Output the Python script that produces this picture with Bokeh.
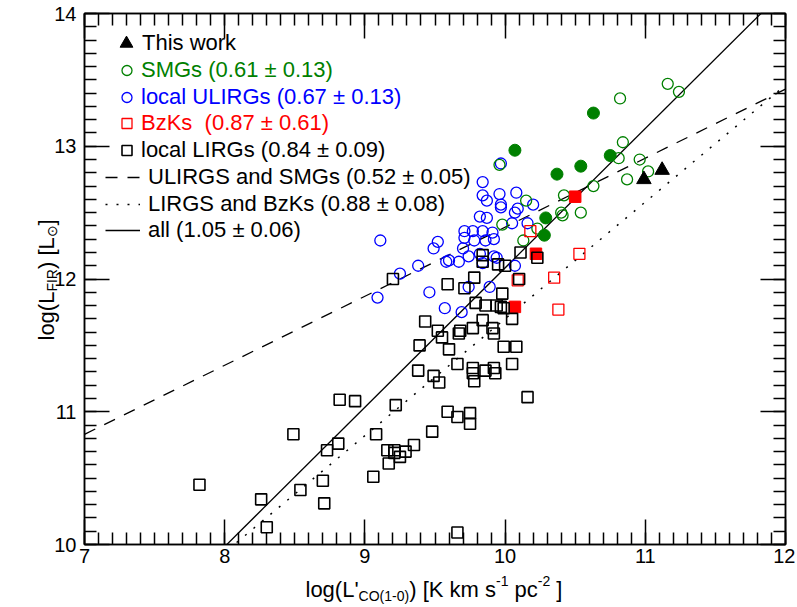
import numpy as np
from bokeh.plotting import figure
from bokeh.models import (Legend, LegendItem, LinearAxis, SingleIntervalTicker,
                          Range1d, CustomJSTickFormatter)
from bokeh.core.properties import value
from bokeh.embed import file_html
from bokeh.resources import INLINE

FONT = "Liberation Sans"
GREEN = "#008000"
BLUE = "#0000ff"
RED = "#ff0000"

# ---------------- data (log L'CO, log LFIR) ----------------
this_work_x = [10.99, 11.12]
this_work_y = [12.75, 12.82]

smg_open_x = [11.16, 11.24, 10.82, 10.84, 10.81, 10.96, 11.02, 10.87, 10.63, 10.42,
              10.54, 10.40, 10.41, 10.15, 9.98, 10.23, 10.13, 9.96]
smg_open_y = [13.47, 13.41, 13.36, 13.03, 12.91, 12.90, 12.81, 12.75, 12.70, 12.63,
              12.50, 12.50, 12.48, 12.59, 12.41, 12.38, 12.29, 12.86]

smg_filled_x = [10.63, 10.07, 10.54, 10.37, 10.75, 10.29, 10.28]
smg_filled_y = [13.25, 12.97, 12.85, 12.79, 12.93, 12.46, 12.33]

ulirg_x = [9.09, 9.11, 9.25, 9.38, 9.46, 9.49, 9.52, 9.57, 9.58, 9.60, 9.67, 9.69,
           9.70, 9.71, 9.71, 9.74, 9.74, 9.77, 9.78, 9.82, 9.82, 9.84, 9.84, 9.84,
           9.84, 9.86, 9.87, 9.87, 9.89, 9.91, 9.92, 9.92, 9.94, 9.96, 9.97, 9.97,
           9.97, 10.05, 10.07, 10.07, 10.08, 10.09, 10.16, 10.20]
ulirg_y = [11.86, 12.29, 12.04, 12.10, 11.90, 12.23, 12.28, 11.78, 12.13, 12.14, 12.13, 11.75,
           12.23, 12.31, 12.36, 12.17, 11.94, 12.36, 12.29, 12.47, 12.19, 12.73, 12.36, 12.12,
           12.63, 12.29, 12.59, 12.46, 11.94, 12.35, 12.30, 12.17, 12.16, 12.64, 12.56, 12.54,
           12.87, 12.42, 12.10, 12.50, 12.65, 12.53, 12.42, 12.56]

bzk_filled_x = [10.50, 10.22, 10.07]
bzk_filled_y = [12.62, 12.19, 11.79]
bzk_open_x = [10.18, 10.53, 10.35, 10.09, 10.38]
bzk_open_y = [12.36, 12.19, 12.01, 11.99, 11.77]

lirg_x = [7.82, 8.26, 8.30, 8.49, 8.54, 8.70, 8.71, 8.73, 8.81, 8.82, 8.93, 9.06,
          9.08, 9.16, 9.21, 9.21, 9.25, 9.29, 9.17, 9.22, 9.35, 9.48, 9.59, 9.66,
          9.75, 9.75, 9.66, 9.38, 9.49, 9.53, 9.77, 9.77, 9.78, 9.86, 9.92, 9.93,
          10.05, 9.99, 10.08, 9.66, 9.39, 9.60, 9.43, 9.52, 9.55, 9.68, 9.67, 9.77,
          9.91, 9.92, 9.84, 10.05, 9.79, 9.86, 9.94, 9.97, 9.99, 9.98, 9.20, 9.59,
          9.71, 9.78, 10.10, 9.84, 9.84, 9.95, 10.00, 10.11, 10.23, 10.16]
lirg_y = [10.45, 10.34, 10.13, 10.83, 10.41, 10.48, 10.31, 10.71, 10.76, 11.09, 11.08, 10.51,
          10.83, 10.71, 10.71, 10.69, 10.66, 10.70, 10.61, 11.05, 10.75, 10.85, 11.00, 10.96,
          10.99, 10.91, 10.09, 11.31, 11.27, 11.22, 11.33, 11.29, 11.23, 11.31, 11.33, 11.29,
          11.36, 11.49, 11.49, 11.36, 11.50, 11.47, 11.68, 11.61, 11.56, 11.61, 11.59, 11.63,
          11.63, 11.59, 11.69, 11.70, 11.82, 11.80, 11.80, 11.79, 11.78, 11.89, 12.00, 11.96,
          11.93, 12.01, 12.00, 12.18, 12.13, 12.11, 12.10, 12.20, 12.16, 11.11]

# fitted relations: log LFIR = slope * log L'CO + intercept
fit_ulirg_smg = (0.52, 7.19)
fit_lirg_bzk = (0.88, 2.90)
fit_all = (1.05, 1.584)

legend_labels = ["This work", "SMGs (0.61 \u00b1 0.13)", "local ULIRGs (0.67 \u00b1 0.13)",
                 "BzKs\u00a0 (0.87 \u00b1 0.61)", "local LIRGs (0.84 \u00b1 0.09)",
                 "ULIRGS and SMGs (0.52 \u00b1 0.05)", "LIRGS and BzKs (0.88 \u00b1 0.08)",
                 "all (1.05 \u00b1 0.06)"]

# ---------------- layout constants (page pixels) ----------------
W, H = 795, 605
FL, FR, FT, FB = 84, 785, 13, 544   # frame edges on the page
X0, X1, Y0, Y1 = 7, 12, 10, 14

p = figure(width=W, height=H, output_backend="svg", toolbar_location=None,
           x_range=Range1d(X0, X1), y_range=Range1d(Y0, Y1),
           min_border_left=FL, min_border_right=W - FR,
           min_border_top=FT, min_border_bottom=H - FB)
p.xgrid.visible = False
p.ygrid.visible = False
p.outline_line_color = "black"
p.outline_line_width = 1.5
p.background_fill_color = "white"
p.border_fill_color = "white"


def style_axis(ax, labels=True, standoff=6):
    ax.ticker = SingleIntervalTicker(interval=1, num_minor_ticks=10)
    ax.axis_line_color = "black"
    ax.axis_line_width = 1.5
    ax.major_tick_in = 25
    ax.major_tick_out = 0
    ax.minor_tick_in = 12
    ax.minor_tick_out = 0
    ax.major_tick_line_color = "black"
    ax.major_tick_line_width = 1.5
    ax.minor_tick_line_color = "black"
    ax.minor_tick_line_width = 1.5
    ax.major_label_text_font = FONT
    ax.major_label_text_font_size = "20px"
    ax.major_label_text_color = "black"
    ax.major_label_standoff = standoff
    if not labels:
        ax.formatter = CustomJSTickFormatter(code="return ''")
        ax.major_label_standoff = 0
        ax.major_label_text_font_size = "0px"


style_axis(p.xaxis[0], True, 4)
style_axis(p.yaxis[0], True, 8)
top_ax = LinearAxis()
right_ax = LinearAxis()
style_axis(top_ax, False)
style_axis(right_ax, False)
p.add_layout(top_ax, "above")
p.add_layout(right_ax, "right")

# ---------------- fit lines ----------------
xs = np.array([7.0, 12.0])
l_dash = p.line(xs, fit_ulirg_smg[0] * xs + fit_ulirg_smg[1], line_color="black",
                line_width=1.3, line_dash="12 10")
l_dot = p.line(xs, fit_lirg_bzk[0] * xs + fit_lirg_bzk[1], line_color="black",
               line_width=1.5, line_dash="2 9")
l_all = p.line(xs, fit_all[0] * xs + fit_all[1], line_color="black", line_width=1.3)

# ---------------- points ----------------
r_ulirg = p.scatter(ulirg_x, ulirg_y, marker="circle", size=11, fill_color=None,
                    line_color=BLUE, line_width=1.3)
r_smg = p.scatter(smg_open_x, smg_open_y, marker="circle", size=11, fill_color=None,
                  line_color=GREEN, line_width=1.3)
r_smgf = p.scatter(smg_filled_x, smg_filled_y, marker="circle", size=12, fill_color=GREEN,
                   line_color=GREEN, line_width=1)
r_bzkf = p.scatter(bzk_filled_x, bzk_filled_y, marker="square", size=11.5, fill_color=RED,
                   line_color=RED, line_width=1)
r_bzk = p.scatter(bzk_open_x, bzk_open_y, marker="square", size=11, fill_color=None,
                  line_color=RED, line_width=1.3)
r_lirg = p.scatter(lirg_x, lirg_y, marker="square", size=11, fill_color=None,
                   line_color="black", line_width=1.6)
r_tw = p.scatter(this_work_x, this_work_y, marker="triangle", size=14.5, fill_color="black",
                 line_color="black", line_width=1)

# ---------------- legend (one entry per box, each with its own text colour) ----------------
# (renderer, label, colour, x from frame left, y from frame bottom, glyph width, standoff, height)
entries = [
    (r_tw, legend_labels[0], "black", 26, 484, 32, 0, 34),
    (r_smg, legend_labels[1], GREEN, 30, 458, 25, 2, 32),
    (r_ulirg, legend_labels[2], BLUE, 30, 431, 25, 2, 32),
    (r_bzk, legend_labels[3], RED, 30, 405, 25, 2, 32),
    (r_lirg, legend_labels[4], "black", 30, 378, 25, 2, 32),
    (l_dash, legend_labels[5], "black", 21, 351, 35, 8, 32),
    (l_dot, legend_labels[6], "black", 21, 324, 35, 8, 32),
    (l_all, legend_labels[7], "black", 21, 298, 35, 8, 32),
]
for rend, lab, col, vx, vy, gw, ls, gh in entries:
    leg = Legend(items=[LegendItem(label=lab, renderers=[rend])], location=(vx, vy),
                 glyph_width=gw, glyph_height=gh, label_height=gh, label_width=10,
                 label_standoff=ls, padding=0, margin=0, spacing=0,
                 border_line_color=None, background_fill_alpha=0,
                 label_text_color=col, label_text_font=FONT, label_text_font_size="22px")
    p.add_layout(leg)


# ---------------- axis titles: text glyphs on the overlay level (not clipped to frame) ----------------
def dx(px):
    return X0 + (px - FL) * (X1 - X0) / (FR - FL)


def dy(py):
    return Y0 + (FB - py) * (Y1 - Y0) / (FB - FT)


def title_text(pieces, size, angle=0.0):
    p.text(x=[dx(a) for a, b, t in pieces], y=[dy(b) for a, b, t in pieces],
           text=[t for a, b, t in pieces], angle=angle,
           text_font=value(FONT), text_font_size=value(size), text_color="black",
           text_align="left", text_baseline="alphabetic", level="overlay")


# x title: log(L'CO(1-0)) [K km s-1 pc-2 ]   (page x, page baseline y, text)
title_text([(305, 589, "log(L'"), (408.7, 589, ") [K km s"), (514, 589, "pc"),
            (555.7, 589, "]")], "22px")
title_text([(358.1, 595, "CO(1-0)")], "14px")
title_text([(495.5, 580, "-1"), (537.3, 580, "-2")], "14px")

# y title: log(LFIR) [L_sun]  (rotated, reads upward)
title_text([(46, 340, "log(L"), (46, 268.5, ") [L"), (46, 225, "]")], "22px", np.pi / 2)
title_text([(51, 291.1, "FIR"), (51, 236.7, "\u2299")], "14px", np.pi / 2)

open("out.html", "w").write(file_html(p, INLINE))
